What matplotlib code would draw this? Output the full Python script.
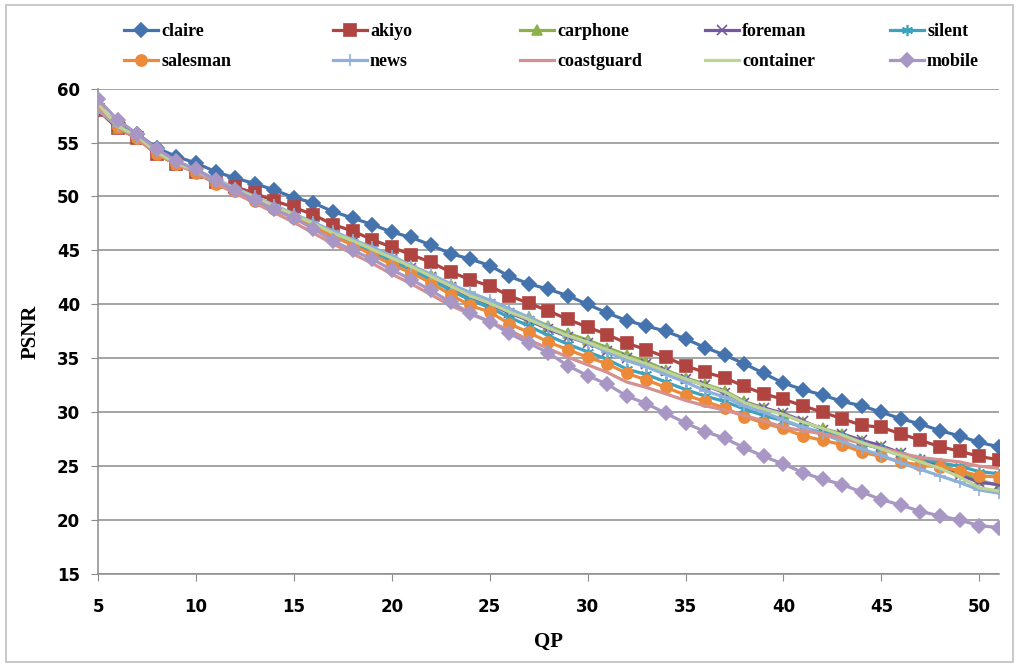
import matplotlib
matplotlib.use("Agg")
import matplotlib.pyplot as plt
from matplotlib.patches import Rectangle

qp = list(range(5, 52))

claire = [58.2, 56.8, 55.8, 54.5, 53.7, 53.1, 52.3, 51.7, 51.2, 50.6, 49.9, 49.4,
          48.6, 48.0, 47.4, 46.7, 46.2, 45.5, 44.7, 44.2, 43.6, 42.6, 41.9, 41.4,
          40.8, 40.0, 39.2, 38.5, 38.0, 37.5, 36.8, 36.0, 35.3, 34.5, 33.6, 32.7,
          32.1, 31.6, 31.0, 30.6, 30.0, 29.4, 28.9, 28.3, 27.8, 27.2, 26.8]
akiyo = [58.0, 56.3, 55.4, 53.9, 53.0, 52.3, 51.3, 50.9, 50.3, 49.6, 49.0, 48.3,
         47.4, 46.8, 46.0, 45.3, 44.6, 43.9, 43.0, 42.3, 41.7, 40.8, 40.1, 39.4,
         38.6, 37.9, 37.2, 36.4, 35.8, 35.1, 34.3, 33.7, 33.2, 32.4, 31.7, 31.2,
         30.6, 30.0, 29.4, 28.8, 28.6, 28.0, 27.4, 26.8, 26.4, 25.9, 25.6]
carphone = [58.5, 56.3, 55.5, 54.0, 53.0, 52.4, 51.5, 50.6, 49.9, 49.0, 48.3, 47.5,
            46.6, 45.9, 45.1, 44.3, 43.5, 42.7, 41.8, 40.9, 40.2, 39.4, 38.8, 38.0,
            37.3, 36.7, 36.0, 35.3, 34.7, 33.9, 33.2, 32.6, 32.0, 31.0, 30.4, 29.8,
            29.1, 28.5, 28.0, 27.3, 26.8, 26.2, 25.7, 25.1, 24.5, 23.7, 23.2]
foreman = [58.4, 56.4, 55.6, 54.0, 53.1, 52.4, 51.4, 50.6, 49.8, 48.9, 48.2, 47.4,
           46.5, 45.8, 45.0, 44.2, 43.4, 42.5, 41.6, 40.7, 40.0, 39.2, 38.5, 37.7,
           37.0, 36.4, 35.7, 35.0, 34.5, 33.8, 33.1, 32.5, 31.8, 30.9, 30.4, 29.9,
           29.2, 28.4, 28.0, 27.4, 26.9, 26.2, 25.6, 25.0, 24.2, 23.5, 23.3]
silent = [58.4, 56.6, 55.6, 54.1, 53.2, 52.4, 51.5, 50.7, 49.9, 49.0, 48.2, 47.4,
          46.5, 45.7, 44.9, 44.0, 43.2, 42.3, 41.3, 40.4, 39.7, 38.8, 38.0, 37.1,
          36.3, 35.6, 34.9, 34.0, 33.5, 32.8, 32.1, 31.5, 31.0, 30.3, 29.7, 29.2,
          28.6, 28.1, 27.7, 27.1, 26.6, 26.0, 25.7, 25.3, 25.0, 24.5, 24.3]
salesman = [58.3, 56.4, 55.4, 53.9, 53.0, 52.2, 51.2, 50.5, 49.6, 48.8, 48.0, 47.2,
            46.3, 45.5, 44.6, 43.7, 42.9, 42.0, 40.9, 39.9, 39.3, 38.2, 37.4, 36.5,
            35.8, 35.1, 34.5, 33.6, 33.0, 32.3, 31.6, 31.0, 30.4, 29.6, 29.0, 28.5,
            27.8, 27.4, 27.0, 26.3, 25.9, 25.4, 25.1, 24.9, 24.6, 24.1, 24.0]
news = [58.0, 56.5, 55.4, 54.1, 53.2, 52.5, 51.6, 50.8, 50.0, 49.2, 48.4, 47.6,
        46.8, 46.0, 45.3, 44.5, 43.6, 42.8, 41.9, 41.1, 40.4, 39.6, 38.8, 37.9,
        37.1, 36.4, 35.6, 34.8, 34.2, 33.5, 32.8, 32.0, 31.4, 30.6, 30.0, 29.3,
        28.6, 28.0, 27.3, 26.6, 26.0, 25.3, 24.7, 24.1, 23.5, 22.8, 22.5]
coastguard = [58.2, 56.5, 55.3, 54.0, 53.0, 52.2, 51.2, 50.3, 49.4, 48.5, 47.6, 46.6,
              45.6, 44.7, 43.8, 42.8, 41.9, 40.9, 39.9, 39.1, 38.4, 37.6, 36.7, 35.9,
              35.1, 34.4, 33.7, 32.8, 32.3, 31.7, 31.1, 30.6, 30.2, 29.7, 29.2, 28.6,
              28.3, 28.0, 27.6, 27.1, 26.7, 26.2, 25.8, 25.6, 25.4, 25.0, 24.8]
container = [58.6, 56.5, 55.6, 54.1, 53.1, 52.4, 51.5, 50.7, 49.9, 49.1, 48.3, 47.5,
             46.6, 45.9, 45.1, 44.3, 43.5, 42.6, 41.7, 40.8, 40.1, 39.3, 38.6, 37.8,
             37.1, 36.5, 35.8, 35.1, 34.5, 33.8, 33.1, 32.5, 31.9, 30.9, 30.3, 29.8,
             29.1, 28.5, 27.9, 27.2, 26.6, 26.0, 25.4, 24.8, 24.0, 23.0, 22.7]
mobile = [59.0, 57.1, 55.8, 54.4, 53.3, 52.5, 51.5, 50.6, 49.7, 48.8, 48.0, 47.0,
          45.9, 45.0, 44.2, 43.2, 42.3, 41.3, 40.2, 39.2, 38.4, 37.3, 36.4, 35.5,
          34.3, 33.4, 32.6, 31.5, 30.8, 29.9, 29.0, 28.2, 27.6, 26.7, 25.9, 25.2,
          24.4, 23.8, 23.3, 22.6, 21.9, 21.4, 20.8, 20.4, 20.0, 19.5, 19.3]

names = ["claire", "akiyo", "carphone", "foreman", "silent",
         "salesman", "news", "coastguard", "container", "mobile"]
series = [claire, akiyo, carphone, foreman, silent,
          salesman, news, coastguard, container, mobile]
colors = ["#4573AD", "#B04441", "#8DB14A", "#7459A0", "#3CA2BE",
          "#EC8A3A", "#8FB0DA", "#D6918F", "#BCD494", "#A897C4"]
markers = ["D", "s", "^", "x", (6, 2, 0), "o", "+", None, None, "D"]
msizes = [7, 8, 7, 7, 8, 8, 8, 0, 0, 7]

fig = plt.figure(figsize=(10.19, 6.66), dpi=100)
fig.add_artist(Rectangle((0.006, 0.006), 0.988, 0.9865, transform=fig.transFigure,
                         fill=False, edgecolor="#BFBFBF", lw=1.2))
ax = fig.add_axes([0.0962, 0.138, 0.884, 0.729])

lines = []
for name, y, c, m, ms in zip(names, series, colors, markers, msizes):
    ln, = ax.plot(qp, y, color=c, lw=2.3, marker=m, markersize=ms, markeredgecolor=c,
                  markeredgewidth=1.2, label=name, zorder=3)
    lines.append(ln)

ax.set_xlim(5, 51)
ax.set_ylim(15, 60)
ax.set_xticks(range(5, 51, 5))
ax.set_yticks(range(15, 61, 5))
ax.grid(axis="y", color="#8C8C8C", lw=1.1)
ax.set_axisbelow(True)
for s in ["top", "right"]:
    ax.spines[s].set_visible(False)
for s in ["left", "bottom"]:
    ax.spines[s].set_color("#8C8C8C")
    ax.spines[s].set_linewidth(1.1)
ax.tick_params(axis="x", direction="out", length=5, color="#8C8C8C", pad=12)
ax.tick_params(axis="y", direction="out", length=5, color="#8C8C8C", pad=8)

tick_font = ["Liberation Sans Narrow", "DejaVu Sans"]
for lab in ax.get_xticklabels() + ax.get_yticklabels():
    lab.set_family(tick_font)
    lab.set_fontweight("bold")
    lab.set_fontsize(12)

ax.set_xlabel("QP", family="Liberation Serif", fontweight="bold", fontsize=15, labelpad=12)
ax.set_ylabel("PSNR", family="Liberation Serif", fontweight="bold", fontsize=15, labelpad=12)

# one small legend per column, so the columns sit evenly like the Excel legend
col_x = [124, 333, 520, 705, 890]
for i, x in enumerate(col_x):
    fig.legend([lines[i], lines[i + 5]], [names[i], names[i + 5]],
               loc="upper left", bbox_to_anchor=(x / 1019, 1 - 23 / 666),
               frameon=False, borderpad=0, borderaxespad=0,
               prop={"family": "Liberation Serif", "weight": "bold", "size": 13},
               handlelength=1.9, handletextpad=0.15, labelspacing=0.72)

fig.savefig("out.png", dpi=100)
